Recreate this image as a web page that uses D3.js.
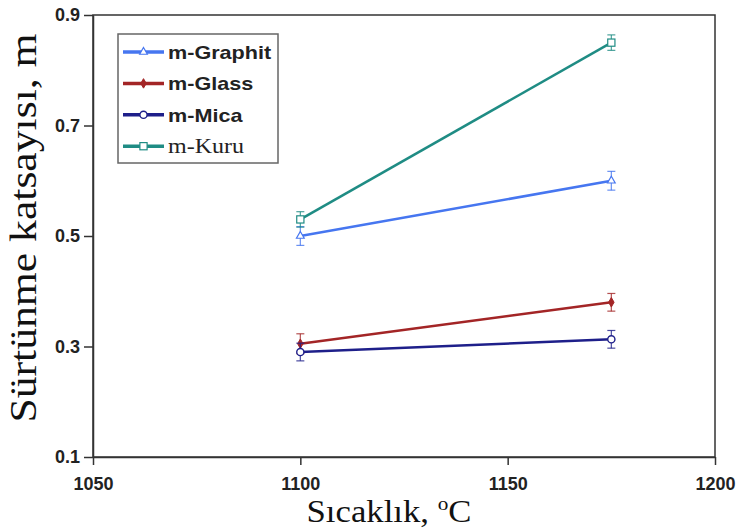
<!DOCTYPE html>
<html>
<head>
<meta charset="utf-8">
<script src="https://cdn.jsdelivr.net/npm/d3@7"></script>
<style>
  body { margin: 0; background: #fff; }
  svg { display: block; }
</style>
</head>
<body>
<svg id="chart" width="741" height="532"></svg>
<script>
// data
const temps = [1100, 1175];
const graphit = [0.50, 0.60];
const glass = [0.305, 0.38];
const mica = [0.29, 0.313];
const kuru = [0.53, 0.85];
const graphitErr = [0.017, 0.017];
const glassErr = [0.018, 0.016];
const micaErr = [0.016, 0.016];
const kuruErr = [0.014, 0.014];
const xTicks = [1050, 1100, 1150, 1200];
const yTicks = [0.1, 0.3, 0.5, 0.7, 0.9];

const sans = 'Arial, "Liberation Sans", sans-serif';
const serif = '"Times New Roman", "Liberation Serif", serif';

const series = [
    { name: 'm-Graphit', values: graphit, err: graphitErr, color: '#4676f0', marker: 'triangle', font: sans, bold: true },
    { name: 'm-Glass', values: glass, err: glassErr, color: '#a32526', marker: 'diamond', font: sans, bold: true },
    { name: 'm-Mica', values: mica, err: micaErr, color: '#1e1f8a', marker: 'circle', font: sans, bold: true },
    { name: 'm-Kuru', values: kuru, err: kuruErr, color: '#1f8c84', marker: 'square', font: serif, bold: false }
];

const svg = d3.select('#chart');
const plotLeft = 93, plotRight = 715, plotTop = 15, plotBottom = 457;

const x = d3.scaleLinear().domain([1050, 1200]).range([plotLeft, plotRight]);
const y = d3.scaleLinear().domain([0.1, 0.9]).range([plotBottom, plotTop]);

// frame
svg.append('rect')
    .attr('x', plotLeft).attr('y', plotTop)
    .attr('width', plotRight - plotLeft).attr('height', plotBottom - plotTop)
    .attr('fill', 'none').attr('stroke', '#333').attr('stroke-width', 1.5);

const xAxis = svg.append('g')
    .attr('transform', 'translate(0,' + plotBottom + ')')
    .call(d3.axisBottom(x).tickValues(xTicks).tickFormat(d3.format('d')).tickSize(8).tickSizeOuter(0).tickPadding(12));
const yAxis = svg.append('g')
    .attr('transform', 'translate(' + plotLeft + ',0)')
    .call(d3.axisLeft(y).tickValues(yTicks).tickFormat(d3.format('.1f')).tickSize(9).tickSizeOuter(0).tickPadding(4));

[xAxis, yAxis].forEach(function (g) {
    g.select('.domain').attr('stroke', '#333').attr('stroke-width', 1.5);
    g.selectAll('.tick line').attr('stroke', '#333').attr('stroke-width', 1.5);
    g.selectAll('.tick text')
        .attr('fill', '#222')
        .style('font-family', sans)
        .style('font-weight', 'bold')
        .style('font-size', '18px');
});

// axis titles
const xTitle = svg.append('text')
    .attr('transform', 'translate(389,522) scale(1.12,1)')
    .attr('text-anchor', 'middle')
    .style('font-family', serif)
    .style('font-size', '31px')
    .attr('fill', '#111');
xTitle.append('tspan').text('Sıcaklık, ');
xTitle.append('tspan').attr('dy', -12).style('font-size', '19px').text('o');
xTitle.append('tspan').attr('dy', 12).text('C');

svg.append('text')
    .attr('transform', 'translate(36,' + 228 + ') rotate(-90) scale(1.18,1)')
    .attr('text-anchor', 'middle')
    .style('font-family', serif)
    .style('font-size', '37px')
    .attr('fill', '#111')
    .text('Sürtünme katsayısı, m');

function drawMarker(g, type, color, cx, cy) {
    if (type === 'triangle') {
        g.append('path')
            .attr('d', d3.symbol().type(d3.symbolTriangle).size(26)())
            .attr('transform', 'translate(' + cx + ',' + cy + ')')
            .attr('fill', '#fff').attr('stroke', color).attr('stroke-width', 1.2);
    } else if (type === 'diamond') {
        g.append('path')
            .attr('d', d3.symbol().type(d3.symbolDiamond).size(26)())
            .attr('transform', 'translate(' + cx + ',' + cy + ')')
            .attr('fill', color).attr('stroke', color);
    } else if (type === 'circle') {
        g.append('circle')
            .attr('cx', cx).attr('cy', cy).attr('r', 3.6)
            .attr('fill', '#fff').attr('stroke', color).attr('stroke-width', 1.4);
    } else {
        g.append('rect')
            .attr('x', cx - 3.6).attr('y', cy - 3.6).attr('width', 7.2).attr('height', 7.2)
            .attr('fill', '#fff').attr('stroke', color).attr('stroke-width', 1.2);
    }
}

const line = d3.line().x(d => x(d[0])).y(d => y(d[1]));

series.forEach(function (s) {
    const g = svg.append('g');
    const pts = temps.map((t, i) => [t, s.values[i], s.err[i]]);
    g.append('path')
        .datum(pts)
        .attr('d', line)
        .attr('fill', 'none')
        .attr('stroke', s.color)
        .attr('stroke-width', 2.5);
    pts.forEach(function (p) {
        const cx = x(p[0]);
        const y1 = y(p[1] + p[2]), y2 = y(p[1] - p[2]);
        g.append('line').attr('x1', cx).attr('x2', cx).attr('y1', y1).attr('y2', y2)
            .attr('stroke', s.color).attr('stroke-width', 1.2).attr('opacity', 0.8);
        [y1, y2].forEach(function (yy) {
            g.append('line').attr('x1', cx - 4).attr('x2', cx + 4).attr('y1', yy).attr('y2', yy)
                .attr('stroke', s.color).attr('stroke-width', 1.2).attr('opacity', 0.8);
        });
        drawMarker(g, s.marker, s.color, cx, y(p[1]));
    });
});

// legend
const legend = svg.append('g');
legend.append('rect')
    .attr('x', 118).attr('y', 34).attr('width', 160).attr('height', 129)
    .attr('fill', '#fff').attr('stroke', '#666').attr('stroke-width', 1.5);
series.forEach(function (s, i) {
    const ly = 52 + i * 31.4;
    legend.append('line')
        .attr('x1', 123).attr('x2', 164).attr('y1', ly).attr('y2', ly)
        .attr('stroke', s.color).attr('stroke-width', 3.5);
    drawMarker(legend, s.marker, s.color, 143.5, ly);
    legend.append('text')
        .attr('transform', 'translate(168,' + (ly + 7) + ') scale(1.2,1)')
        .style('font-family', s.font)
        .style('font-weight', s.bold ? 'bold' : 'normal')
        .style('font-size', s.bold ? '18px' : '20px')
        .attr('fill', '#222')
        .text(s.name);
});
</script>
</body>
</html>
